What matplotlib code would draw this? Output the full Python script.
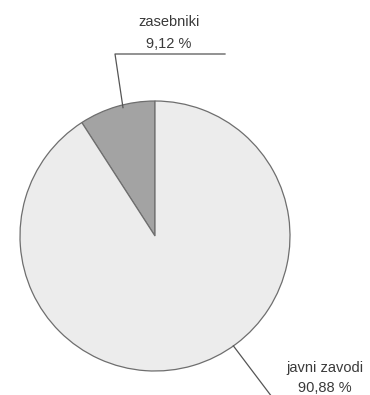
import numpy as np
import matplotlib
matplotlib.use('Agg')
import matplotlib.pyplot as plt

labels = ['zasebniki', 'javni zavodi']
shares = [9.12, 90.88]
pct_text = ['9,12 %', '90,88 %']
colors = ['#a3a3a3', '#ececec']

plt.rcParams['font.family'] = ['Liberation Sans', 'DejaVu Sans']

fig = plt.figure(figsize=(3.7, 3.95), dpi=100)
ax = fig.add_axes([0, 0, 1, 1])

cx, cy, r = 155, 159, 135
wedges, _ = ax.pie(shares, colors=colors, startangle=90, counterclock=True,
                   center=(cx, cy), radius=r, frame=True,
                   wedgeprops=dict(edgecolor='#6e6e6e', linewidth=0.9))
ax.set_xlim(0, 370)
ax.set_ylim(0, 395)
ax.set_aspect('equal')
ax.axis('off')

line_kw = dict(color='#555555', lw=0.9)
txt_kw = dict(ha='center', va='center', fontsize=10.5, color='#3a3a3a')

# zasebniki leader
a = np.deg2rad(104)
x0, y0 = cx + 0.98 * r * np.cos(a), cy + 0.98 * r * np.sin(a)
ax.plot([x0, 115, 225], [y0, 341, 341], **line_kw)
ax.text(169, 373, labels[0], **txt_kw)
ax.text(169, 351, pct_text[0], **txt_kw)

# javni zavodi leader
a = np.deg2rad(-54.5)
x1, y1 = cx + r * np.cos(a), cy + r * np.sin(a)
ax.plot([x1, 272], [y1, -2], **line_kw)
ax.text(325, 27, labels[1], **txt_kw)
ax.text(325, 7, pct_text[1], **txt_kw)

fig.savefig('out.png', dpi=100, facecolor='white')
